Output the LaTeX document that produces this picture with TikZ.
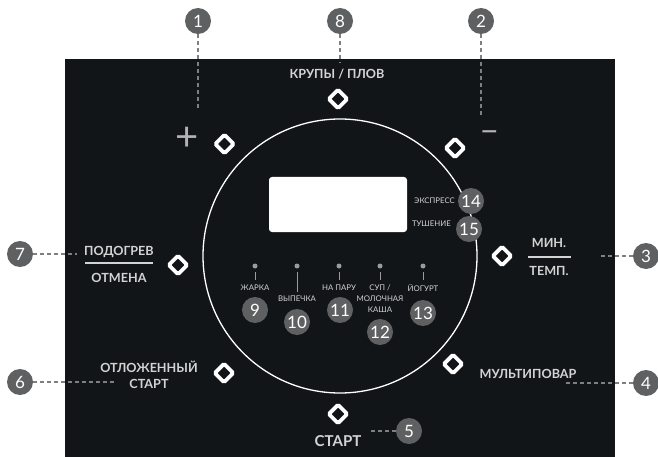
\documentclass[tikz,border=0pt]{standalone}
\usepackage{fontspec}
\setmainfont{Lato}

\definecolor{panel}{HTML}{121517}
\definecolor{badgegray}{HTML}{5F6061}
\definecolor{leadgray}{HTML}{7E7F80}
\definecolor{labelgray}{HTML}{D2D3D3}
\definecolor{dotgray}{HTML}{9A9B9B}

\tikzset{
	badge/.style={circle,fill=badgegray,text=white,minimum size=26pt,inner sep=0pt,
		font=\fontsize{17}{17}\selectfont},
	leader/.style={draw=leadgray,line width=1.5pt,dash pattern=on 4pt off 3pt},
	btn/.style={draw=white,line width=3.8pt,rounded corners=1.5pt,rotate=45,
		minimum size=13pt,inner sep=0pt},
	btnlabel/.style={text=labelgray,inner sep=0pt,align=center,
		font=\bfseries\fontsize{12.6}{16}\selectfont},
	modelabel/.style={text=labelgray,inner sep=0pt,align=center,
		font=\fontsize{7.8}{11}\selectfont},
	tick/.style={draw=dotgray,line width=0.7pt},
	sign/.style={text=labelgray!85!black,inner sep=0pt,font=\fontsize{40}{40}\selectfont},
}

\begin{document}
\begin{tikzpicture}[x=1pt,y=-1pt]
	\useasboundingbox (0,0) rectangle (658,457);
	\fill[panel] (65,59) rectangle (615,457);

	% dial and display
	\node[circle,draw=white,line width=1.3pt,minimum size=274pt,inner sep=0pt] (dial) at (340,256) {};
	\fill[white,rounded corners=3pt] (269,177) rectangle (407,232);

	% buttons
	\node[btn] (bgrain) at (338,99) {};
	\node[btn] (bplus) at (224.5,144) {};
	\node[btn] (bminus) at (455,148) {};
	\node[btn] (bwarm) at (178,265) {};
	\node[btn] (btime) at (502,256) {};
	\node[btn] (bdelay) at (224,373) {};
	\node[btn] (bmulti) at (453,364) {};
	\node[btn] (bstart) at (338,414) {};

	% button texts
	\node[btnlabel] (tgrain) at (337,74) {КРУПЫ / ПЛОВ};
	\node[sign] (tplus) at (187.5,138.5) {+};
	\node[sign,font=\fontsize{32}{32}\selectfont] (tminus) at (489.5,137) {−};
	\node[btnlabel] (twarm) at (119,252) {ПОДОГРЕВ};
	\node[btnlabel] (tcancel) at (119,278) {ОТМЕНА};
	\draw[labelgray,line width=1.4pt] (85,263) -- (153,263);
	\node[btnlabel] (tmin) at (549,243) {МИН.};
	\node[btnlabel] (ttemp) at (549,271) {ТЕМП.};
	\draw[labelgray,line width=1.4pt] (528,257) -- (571,257);
	\node[btnlabel] (tdelay) at (149,375) {ОТЛОЖЕННЫЙ\\СТАРТ};
	\node[btnlabel] (tmulti) at (528,374) {МУЛЬТИПОВАР};
	\node[btnlabel,font=\bfseries\fontsize{15}{15}\selectfont] (tstart) at (338,441) {СТАРТ};

	% mode indicators
	\foreach \i/\x/\l in {1/255/8,2/297/20,3/339/8,4/380/8,5/423/8}{
		\node[circle,fill=dotgray,minimum size=5pt,inner sep=0pt] (d\i) at (\x,266) {};
		\draw[tick] (\x,272) -- (\x,272+\l);
	}
	\node[modelabel] (m9) at (255,288) {ЖАРКА};
	\node[modelabel] (m10) at (297,299) {ВЫПЕЧКА};
	\node[modelabel] (m11) at (339,288) {НА ПАРУ};
	\node[modelabel] (m12) at (380,299) {СУП /\\МОЛОЧНАЯ\\КАША};
	\node[modelabel] (m13) at (423,288) {ЙОГУРТ};
	\node[modelabel,anchor=east] (m14) at (455,201) {ЭКСПРЕСС};
	\node[modelabel,anchor=east] (m15) at (451,224) {ТУШЕНИЕ};

	% callouts
	\node[badge] (n1) at (198,21) {1};
	\node[badge] (n2) at (481,21) {2};
	\node[badge] (n3) at (646,256) {3};
	\node[badge] (n4) at (646,383) {4};
	\node[badge] (n5) at (409,431) {5};
	\node[badge] (n6) at (20,382) {6};
	\node[badge] (n7) at (20,254) {7};
	\node[badge] (n8) at (340,21) {8};
	\node[badge] (n9) at (255,310) {9};
	\node[badge] (n10) at (297,322) {10};
	\node[badge] (n11) at (340,310) {11};
	\node[badge] (n12) at (380,332) {12};
	\node[badge] (n13) at (423,313) {13};
	\node[badge] (n14) at (471,201) {14};
	\node[badge] (n15) at (469,229) {15};

	\coordinate (e1) at (198,110);
	\coordinate (e2) at (481,118);
	\coordinate (e3) at (601,256);
	\coordinate (e4) at (563,383);
	\coordinate (e5) at (370,431);
	\coordinate (e6) at (115,382);
	\coordinate (e7) at (77,254);
	\coordinate (e8) at (340,63);
	\foreach \i in {1,...,8}
		\draw[leader] (n\i) -- (e\i);
\end{tikzpicture}
\end{document}
